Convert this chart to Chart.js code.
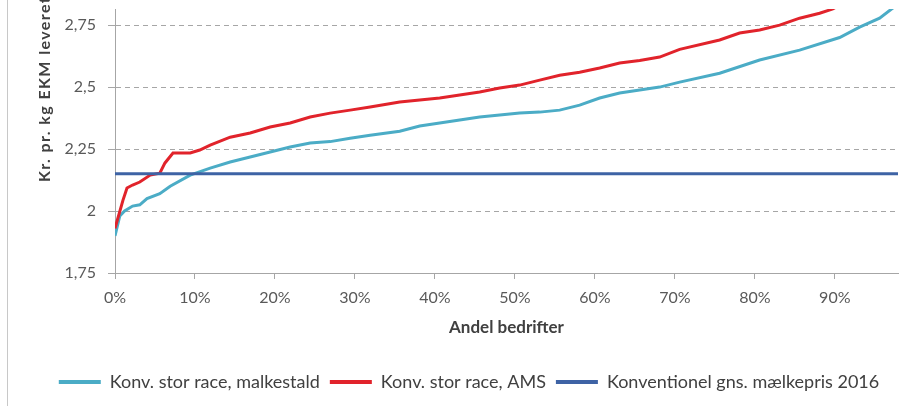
<!DOCTYPE html>
<html>
<head>
<meta charset="utf-8">
<script src="https://cdn.jsdelivr.net/npm/chart.js@4"></script>
<style>
  html, body { margin: 0; padding: 0; background: #fff; }
  #wrap { width: 924px; height: 406px; }
</style>
</head>
<body>
<div id="wrap"><canvas id="mainChart" width="924" height="406"></canvas></div>
<script>
  // Andel bedrifter (%) and kr. pr. kg
  var malkestaldPct = [0, 0.6, 1.2, 2.2, 3.1, 4, 5.6, 6.9, 9.4, 11.9, 14.4, 16.9, 19.4, 21.9, 24.4, 26.9, 29.4, 31.9,
    35.6, 38.1, 40.6, 43.1, 45.6, 48.1, 50.6, 53.1, 55.6, 58.1, 60.6, 63.1, 65.6, 68.1, 70.6, 75.6, 80.6, 85.6,
    90.6, 93.1, 95.6, 97.3, 97.9];
  var malkestaldKr = [1.90, 1.98, 2.00, 2.02, 2.025, 2.05, 2.07, 2.10, 2.145, 2.173, 2.198, 2.218, 2.238, 2.258, 2.274, 2.28, 2.294, 2.306,
    2.322, 2.343, 2.355, 2.367, 2.379, 2.387, 2.395, 2.399, 2.407, 2.427, 2.456, 2.476, 2.488, 2.50, 2.52, 2.556, 2.609, 2.649,
    2.70, 2.742, 2.778, 2.82, 2.84];

  var amsPct = [0, 1, 1.5, 2.2, 3.1, 4.4, 5.6, 6.25, 7.25, 9.4, 10.6, 11.9, 14.4, 16.9, 19.4, 21.9, 24.4, 26.9, 29.4, 31.9,
    35.6, 38.1, 40.6, 43.1, 45.6, 48.1, 50.6, 53.1, 55.6, 58.1, 60.6, 63.1, 65.6, 68.1, 70.6, 75.6, 78.1, 80.6,
    83.1, 85.6, 88.1, 89.75, 92];
  var amsKr = [1.93, 2.044, 2.093, 2.105, 2.117, 2.145, 2.153, 2.194, 2.234, 2.234, 2.246, 2.266, 2.298, 2.315, 2.339, 2.355, 2.379, 2.395, 2.407, 2.42,
    2.44, 2.448, 2.456, 2.468, 2.48, 2.496, 2.508, 2.528, 2.548, 2.56, 2.577, 2.597, 2.607, 2.621, 2.652, 2.69, 2.718, 2.73,
    2.75, 2.778, 2.798, 2.815, 2.86];

  var prisPct = [0, 97.9];
  var prisKr = [2.15, 2.15];

  var seriesNames = ['Konv. stor race, malkestald', 'Konv. stor race, AMS', 'Konventionel gns. mælkepris 2016'];
  var seriesColors = ['#4bacc6', '#e1232b', '#3e63a5'];
  var xTicks = [0, 10, 20, 30, 40, 50, 60, 70, 80, 90];
  var yTicks = [1.75, 2, 2.25, 2.5, 2.75];
  var xTitle = 'Andel bedrifter';
  var yTitle = 'Kr. pr. kg EKM leveret mælk';

  function points(xs, ys) {
    return xs.map(function (x, i) { return { x: x, y: ys[i] }; });
  }

  // y title is cut off at the top in the original, so draw it by hand
  var yTitlePlugin = {
    id: 'yTitle',
    afterDraw: function (chart) {
      var ctx = chart.ctx;
      ctx.save();
      ctx.strokeStyle = '#c8c8c8';
      ctx.lineWidth = 1;
      ctx.beginPath();
      ctx.moveTo(7.5, 0);
      ctx.lineTo(7.5, 406);
      ctx.stroke();
      ctx.translate(45, 182);
      ctx.rotate(-Math.PI / 2);
      ctx.font = 'bold 16px Lato';
      ctx.letterSpacing = '1.4px';
      ctx.fillStyle = '#404040';
      ctx.textAlign = 'left';
      ctx.textBaseline = 'middle';
      ctx.fillText(yTitle, 0, 0);
      ctx.restore();
    }
  };

  var datasets = [
    { data: points(malkestaldPct, malkestaldKr), order: 2 },
    { data: points(amsPct, amsKr), order: 1 },
    { data: points(prisPct, prisKr), order: 0 }
  ].map(function (d, i) {
    d.label = seriesNames[i];
    d.borderColor = seriesColors[i];
    d.backgroundColor = seriesColors[i];
    d.borderWidth = 3;
    d.pointRadius = 0;
    d.tension = 0;
    return d;
  });

  new Chart(document.getElementById('mainChart').getContext('2d'), {
    type: 'line',
    data: { datasets: datasets },
    plugins: [yTitlePlugin],
    options: {
      responsive: false,
      animation: false,
      layout: { padding: { top: 0, right: 26, left: 40, bottom: 5 } },
      plugins: {
        tooltip: { enabled: false },
        legend: {
          position: 'bottom',
          labels: {
            boxWidth: 42,
            boxHeight: 4,
            padding: 10,
            color: '#404040',
            font: { family: 'Lato', size: 18 },
            sort: function (a, b) { return a.datasetIndex - b.datasetIndex; },
            generateLabels: function (chart) {
              return Chart.defaults.plugins.legend.labels.generateLabels(chart).map(function (l) {
                l.lineWidth = 0;
                return l;
              });
            }
          }
        }
      },
      scales: {
        x: {
          type: 'linear',
          min: 0,
          max: 97.9,
          afterBuildTicks: function (s) { s.ticks = xTicks.map(function (v) { return { value: v }; }); },
          afterFit: function (s) { s.height = 90; },
          ticks: {
            padding: 9,
            color: '#595959',
            font: { family: 'Lato', size: 16 },
            callback: function (v) { return v + '%'; }
          },
          grid: { drawOnChartArea: false, drawTicks: true, tickLength: 6, color: '#a6a6a6', tickBorderDash: [] },
          border: { color: '#a6a6a6' },
          title: {
            display: true,
            text: xTitle,
            color: '#404040',
            font: { family: 'Lato', size: 17, weight: 'bold' },
            padding: { top: 4, bottom: 25 }
          }
        },
        y: {
          min: 1.75,
          max: 2.815,
          afterBuildTicks: function (s) { s.ticks = yTicks.map(function (v) { return { value: v }; }); },
          afterFit: function (s) {
            s.width = 75;
            s.paddingTop = 9;
            s.paddingBottom = 0;
          },
          ticks: {
            padding: 12,
            color: '#595959',
            font: { family: 'Lato', size: 16 },
            callback: function (v) { return String(v).replace('.', ','); }
          },
          grid: { color: '#a6a6a6', tickLength: 7, tickBorderDash: [] },
          border: { color: '#a6a6a6', dash: [5, 4] }
        }
      }
    }
  });
</script>
</body>
</html>
